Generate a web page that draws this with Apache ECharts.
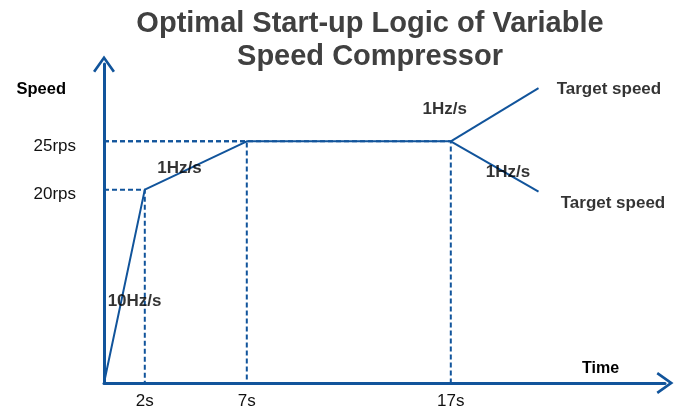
<!DOCTYPE html>
<html>
<head>
<meta charset="utf-8">
<script src="https://cdn.jsdelivr.net/npm/echarts@6/dist/echarts.min.js"></script>
<style>
  html, body { margin: 0; padding: 0; background: #fff; }
  #chart { width: 674px; height: 407px; }
</style>
</head>
<body>
<div id="chart"></div>
<script>
// ramp points: time (s) / speed (rps)
var rampTime = [0, 2, 7, 17];
var rampSpeed = [0, 20, 25, 25];
// after 17s the speed goes to target speed, up or down
var branchTime = [17, 21.3];
var branchUp = [25, 30.5];
var branchDown = [25, 19.8];
// tick labels
var timeTicks = [2, 7, 17];
var speedTicks = [20, 25];
// text notes: [time, speed, text]
var notes = [
  [3.7, 22.2, '1Hz/s'],
  [1.5, 8.5, '10Hz/s'],
  [16.7, 28.3, '1Hz/s'],
  [19.8, 21.8, '1Hz/s'],
  [24.75, 30.4, 'Target speed'],
  [24.95, 18.6, 'Target speed']
];

(function(){
  var myChart = echarts.init(document.getElementById('chart'));
  var blue = '#11549b';
  var font = '"Liberation Sans", Arial, sans-serif';
  // open chevron used as axis arrow
  var chevron = 'path://M11,0 L22,15.5 L19.8,17 L11,4.6 L2.2,17 L0,15.5 Z';

  function pairs(xs, ys) {
    return xs.map(function (x, i) { return [x, ys[i]]; });
  }

  // dashed guide lines from every ramp point to both axes
  var guides = [];
  for (var i = 1; i < rampTime.length; i++) {
    guides.push({
      type: 'line',
      data: [[0, rampSpeed[i]], [rampTime[i], rampSpeed[i]], [rampTime[i], 0]],
      symbol: 'none',
      silent: true,
      z: 1,
      lineStyle: { color: blue, width: 2, type: [5, 3] }
    });
  }

  var solid = { color: blue, width: 2 };

  var option = {
    animation: false,
    title: {
      text: 'Optimal Start-up Logic of Variable\nSpeed Compressor',
      left: 365,
      top: 2,
      textAlign: 'center',
      textStyle: {
        fontFamily: font,
        fontSize: 29,
        fontWeight: 'bold',
        color: '#404040',
        lineHeight: 33
      }
    },
    grid: { left: 104, right: 9, top: 64, bottom: 24, outerBoundsMode: 'none' },
    xAxis: {
      type: 'value',
      min: 0,
      max: 27.5,
      name: 'Time',
      nameLocation: 'end',
      nameGap: -83,
      nameTextStyle: {
        fontFamily: font, fontSize: 16, fontWeight: 'bold', color: '#000',
        align: 'left', verticalAlign: 'bottom', padding: [0, 0, 6, 0]
      },
      axisLine: {
        lineStyle: { color: blue, width: 3 },
        symbol: ['none', chevron],
        symbolSize: [22, 17]
      },
      axisTick: { show: false },
      splitLine: { show: false },
      axisLabel: {
        customValues: timeTicks,
        formatter: '{value}s',
        fontFamily: font,
        fontSize: 17,
        color: '#111',
        margin: 10
      }
    },
    yAxis: {
      type: 'value',
      min: 0,
      max: 33,
      name: 'Speed',
      nameLocation: 'end',
      nameGap: -25,
      nameTextStyle: {
        fontFamily: font, fontSize: 16.5, fontWeight: 'bold', color: '#000',
        align: 'right', verticalAlign: 'middle', padding: [0, 38, 0, 0]
      },
      axisLine: {
        show: true,
        lineStyle: { color: blue, width: 3 },
        symbol: ['none', chevron],
        symbolSize: [22, 17]
      },
      axisTick: { show: false },
      splitLine: { show: false },
      axisLabel: {
        customValues: speedTicks,
        formatter: '{value}rps',
        fontFamily: font,
        fontSize: 17,
        color: '#111',
        margin: 28,
        verticalAlign: 'top',
        lineHeight: 9
      }
    },
    series: guides.concat([
      {
        type: 'line',
        data: pairs(rampTime, rampSpeed),
        symbol: 'none',
        z: 3,
        lineStyle: solid
      },
      {
        type: 'line',
        data: pairs(branchTime, branchUp),
        symbol: 'none',
        z: 3,
        lineStyle: solid
      },
      {
        type: 'line',
        data: pairs(branchTime, branchDown),
        symbol: 'none',
        z: 3,
        lineStyle: solid
      },
      {
        type: 'scatter',
        symbolSize: 0,
        clip: false,
        silent: true,
        z: 5,
        data: notes.map(function (n) { return { value: [n[0], n[1]], name: n[2] }; }),
        label: {
          show: true,
          position: 'inside',
          formatter: '{b}',
          fontFamily: font,
          fontSize: 17,
          fontWeight: 'bold',
          color: '#000'
        }
      }
    ])
  };

  myChart.setOption(option);
  window.addEventListener('resize', function () {
    myChart.resize();
  });
})();
</script>
</body>
</html>
